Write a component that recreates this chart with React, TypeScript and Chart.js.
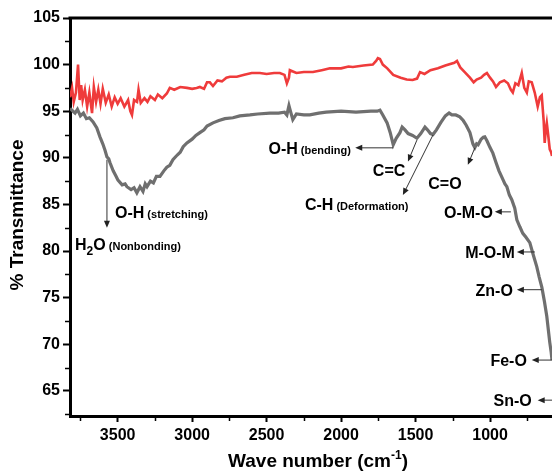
import React, { useEffect, useRef } from "react";
import { Chart, registerables } from "chart.js";

Chart.register(...registerables);

// ---- Data ----
const grayWavenumbers = [
  3820, 3800, 3786, 3770, 3750, 3730, 3710, 3690, 3665, 3640, 3619, 3600, 3585, 3572, 3560, 3552, 3530, 3510, 3498,
  3470, 3450, 3438, 3410, 3390, 3371, 3350, 3330, 3315, 3303, 3280, 3260, 3240, 3216, 3190, 3170, 3150, 3129, 3100,
  3080, 3060, 3035, 3000, 2975, 2948, 2920, 2900, 2860, 2820, 2780, 2726, 2680, 2612, 2560, 2478, 2420, 2380, 2364,
  2350, 2340, 2324, 2300, 2250, 2210, 2150, 2100, 2000, 1900, 1800, 1758, 1739, 1720, 1691, 1670, 1650, 1630, 1605,
  1590, 1571, 1550, 1520, 1491, 1465, 1437, 1420, 1400, 1383, 1360, 1330, 1300, 1275, 1256, 1230, 1203, 1180, 1160,
  1135, 1115, 1102, 1090, 1080, 1060, 1045, 1035, 1020, 1000, 981, 960, 940, 920, 900, 887, 870, 854, 834, 820, 800,
  780, 760, 733, 710, 686, 670, 652, 635, 619, 599, 590, 584,
];
const grayTransmittance = [
  95.3, 95.0, 94.8, 95.2, 94.5, 94.8, 94.2, 94.3, 93.85, 93.2, 92.25, 91.5, 90.8, 90.1, 89.9, 89.5, 88.6, 88.0, 87.6,
  87.1, 87.2, 86.9, 86.6, 86.8, 86.25, 86.9, 86.4, 87.2, 86.9, 87.5, 87.3, 88.0, 88.0, 88.6, 89.0, 89.2, 89.8, 90.3,
  90.6, 91.2, 91.6, 92.0, 92.4, 92.7, 93.0, 93.4, 93.75, 94.0, 94.2, 94.3, 94.5, 94.6, 94.7, 94.8, 94.8, 94.9, 94.6,
  95.6, 95.0, 94.1, 94.7, 94.6, 94.6, 94.8, 94.9, 95.0, 94.9, 95.0, 95.0, 95.1, 94.6, 93.75, 92.7, 91.4, 92.1, 92.7,
  93.3, 93.0, 92.6, 92.4, 92.1, 92.6, 93.3, 93.0, 92.6, 92.5, 93.0, 93.8, 94.5, 94.8, 94.6, 94.6, 94.4, 94.0, 93.5,
  92.7, 91.5, 91.1, 91.5, 91.4, 92.0, 92.2, 92.25, 91.8, 91.1, 90.5, 89.5, 88.6, 87.9, 87.2, 86.9, 86.0, 85.5, 84.6,
  83.35, 82.6, 81.9, 81.5, 80.9, 79.6, 78.3, 77.2, 76.1, 74.6, 73.0, 70.2, 69.2, 68.3,
];

const redWavenumbers = [
  3820, 3806, 3795, 3780, 3766, 3755, 3745, 3735, 3720, 3705, 3690, 3672, 3660, 3645, 3630, 3615, 3600, 3580, 3560,
  3540, 3520, 3500, 3480, 3455, 3430, 3415, 3404, 3390, 3370, 3360, 3345, 3320, 3300, 3280, 3250, 3230, 3200, 3170,
  3150, 3120, 3080, 3035, 3000, 2970, 2948, 2920, 2900, 2881, 2860, 2830, 2800, 2770, 2746, 2700, 2650, 2600, 2545,
  2500, 2450, 2411, 2380, 2364, 2350, 2344, 2300, 2250, 2189, 2130, 2075, 2000, 1950, 1921, 1850, 1787, 1765, 1753,
  1739, 1720, 1690, 1650, 1600, 1560, 1520, 1490, 1470, 1440, 1400, 1350, 1300, 1240, 1222, 1200, 1170, 1135, 1110,
  1090, 1060, 1040, 1021, 1000, 980, 960, 934, 905, 880, 860, 847, 830, 810, 787, 770, 753, 740, 720, 700, 680, 665,
  653, 640, 633, 626, 619, 610, 599, 590, 584,
];
const redTransmittance = [
  96.5, 97.5, 96.0, 97.0, 100.0, 96.2, 97.8, 96.2, 97.3, 95.5, 97.0, 94.8, 97.6, 96.0, 97.3, 95.8, 97.4, 95.9, 96.8,
  95.5, 96.5, 95.8, 96.4, 95.5, 96.2, 95.0, 94.6, 96.2, 96.0, 97.3, 95.9, 96.4, 96.0, 96.6, 96.2, 96.8, 96.4, 96.9,
  97.5, 97.3, 97.6, 97.5, 97.4, 97.5, 97.6, 97.4, 98.1, 98.1, 97.7, 98.3, 98.2, 98.6, 98.7, 98.7, 98.9, 99.1, 99.1,
  99.0, 99.1, 99.1, 98.9, 98.0, 98.6, 99.4, 99.1, 99.2, 99.2, 99.4, 99.6, 99.6, 99.8, 99.75, 99.9, 100.0, 100.4, 100.7,
  100.6, 100.0, 99.6, 98.9, 98.6, 98.4, 98.35, 98.5, 99.2, 99.0, 99.4, 99.6, 99.9, 100.2, 100.4, 99.7, 99.2, 98.6, 98.1,
  98.4, 98.6, 98.9, 99.1, 98.6, 98.2, 97.6, 98.1, 98.3, 98.0, 97.3, 97.0, 98.0, 97.8, 99.1, 97.5, 97.0, 98.2, 98.1,
  97.0, 95.5, 96.5, 96.7, 94.0, 91.6, 93.0, 93.75, 92.5, 90.9, 90.6, 90.2,
];

const xMajorTicks = [3500, 3000, 2500, 2000, 1500, 1000];
const xMinorTicks = [3750, 3250, 2750, 2250, 1750, 1250, 750];
const yMajorTicks = [65, 70, 75, 80, 85, 90, 95, 100, 105];
const yMinorTicks = [62.5, 67.5, 72.5, 77.5, 82.5, 87.5, 92.5, 97.5, 102.5];

const X_MIN = 584;
const X_MAX = 3820;
const Y_MIN = 62.3;
const Y_MAX = 105;

// Peak annotations (data coordinates)
type Part = [string, number, number?];
interface Note {
  parts: Part[];
  x: number;
  y: number;
  align: "left" | "right" | "center";
  arrow?: [number, number, number, number];
}
const notes: Note[] = [
  { parts: [["O-H", 16], [" (bending)", 11]], x: 1934, y: 91.07, align: "right", arrow: [1650, 91.07, 1905, 91.07] },
  { parts: [["C=C", 16]], x: 1678, y: 88.7, align: "center", arrow: [1491, 91.9, 1551, 89.6] },
  { parts: [["C-H", 16], [" (Deformation)", 11]], x: 2243, y: 85.0, align: "left", arrow: [1383, 92.45, 1585, 86.0] },
  { parts: [["C=O", 16]], x: 1303, y: 87.3, align: "center", arrow: [1102, 91.07, 1149, 89.25] },
  { parts: [["O-M-O", 16]], x: 981, y: 84.2, align: "right", arrow: [860, 84.2, 968, 84.2] },
  { parts: [["M-O-M", 16]], x: 833, y: 79.9, align: "right", arrow: [699, 79.9, 820, 79.9] },
  { parts: [["Zn-O", 16]], x: 847, y: 75.85, align: "right", arrow: [652, 75.85, 820, 75.85] },
  { parts: [["Fe-O", 16]], x: 753, y: 68.3, align: "right", arrow: [584, 68.3, 720, 68.3] },
  { parts: [["Sn-O", 16]], x: 720, y: 64.0, align: "right", arrow: [584, 64.0, 680, 64.0] },
  { parts: [["O-H", 16], [" (stretching)", 11]], x: 3518, y: 84.2, align: "left", arrow: [3572, 89.8, 3572, 82.5] },
  { parts: [["H", 16], ["2", 12, 5], ["O", 16], [" (Nonbonding)", 11]], x: 3786, y: 80.7, align: "left" },
];

const FONT = "'Liberation Sans', Arial, Helvetica, sans-serif";

const decorPlugin = {
  id: "ftirDecor",
  afterDraw(chart: any) {
    const { ctx, chartArea, scales } = chart;
    const xs = scales.x;
    const ys = scales.y;
    ctx.save();
    // top frame line
    ctx.strokeStyle = "#000";
    ctx.lineWidth = 3;
    ctx.beginPath();
    ctx.moveTo(chartArea.left - 1.5, chartArea.top);
    ctx.lineTo(chartArea.right, chartArea.top);
    ctx.stroke();

    // minor ticks
    ctx.lineWidth = 1.5;
    ctx.beginPath();
    for (const v of xMinorTicks) {
      const px = Math.round(xs.getPixelForValue(v)) + 0.5;
      ctx.moveTo(px, chartArea.bottom);
      ctx.lineTo(px, chartArea.bottom + 5);
    }
    for (const v of yMinorTicks) {
      const py = Math.round(ys.getPixelForValue(v)) + 0.5;
      ctx.moveTo(chartArea.left, py);
      ctx.lineTo(chartArea.left - 5, py);
    }
    ctx.stroke();

    // axis titles
    ctx.fillStyle = "#000";
    ctx.font = `bold 19px ${FONT}`;
    ctx.textBaseline = "middle";
    ctx.textAlign = "center";
    ctx.save();
    ctx.translate(18, 215);
    ctx.rotate(-Math.PI / 2);
    ctx.fillText("% Transmittance", 0, 0);
    ctx.restore();

    const main = "Wave number (cm";
    const sup = "-1";
    const close = ")";
    ctx.font = `bold 19px ${FONT}`;
    const wMain = ctx.measureText(main).width;
    const wClose = ctx.measureText(close).width;
    ctx.font = `bold 12px ${FONT}`;
    const wSup = ctx.measureText(sup).width;
    const total = wMain + wSup + wClose;
    let tx = 318 - total / 2;
    const baseY = 467;
    ctx.textAlign = "left";
    ctx.textBaseline = "alphabetic";
    ctx.font = `bold 19px ${FONT}`;
    ctx.fillText(main, tx, baseY);
    tx += wMain;
    ctx.font = `bold 12px ${FONT}`;
    ctx.fillText(sup, tx, baseY - 8);
    tx += wSup;
    ctx.font = `bold 19px ${FONT}`;
    ctx.fillText(close, tx, baseY);

    // arrows
    ctx.strokeStyle = "#333";
    ctx.fillStyle = "#222";
    ctx.lineWidth = 1;
    for (const n of notes) {
      if (!n.arrow) continue;
      const [x1, y1, x2, y2] = n.arrow;
      const ax = xs.getPixelForValue(x1);
      const ay = ys.getPixelForValue(y1);
      const bx = xs.getPixelForValue(x2);
      const by = ys.getPixelForValue(y2);
      const ang = Math.atan2(by - ay, bx - ax);
      const len = 7;
      const hw = 3;
      ctx.beginPath();
      ctx.moveTo(ax, ay);
      ctx.lineTo(bx - Math.cos(ang) * (len - 1), by - Math.sin(ang) * (len - 1));
      ctx.stroke();
      ctx.beginPath();
      ctx.moveTo(bx, by);
      ctx.lineTo(bx - Math.cos(ang) * len - Math.sin(ang) * hw, by - Math.sin(ang) * len + Math.cos(ang) * hw);
      ctx.lineTo(bx - Math.cos(ang) * len + Math.sin(ang) * hw, by - Math.sin(ang) * len - Math.cos(ang) * hw);
      ctx.closePath();
      ctx.fill();
    }

    // labels
    ctx.fillStyle = "#000";
    ctx.textAlign = "left";
    ctx.textBaseline = "alphabetic";
    for (const n of notes) {
      let w = 0;
      const widths: number[] = [];
      for (const [t, s] of n.parts) {
        ctx.font = `bold ${s}px ${FONT}`;
        const m = ctx.measureText(t).width;
        widths.push(m);
        w += m;
      }
      const px = xs.getPixelForValue(n.x);
      const py = ys.getPixelForValue(n.y);
      let sx = n.align === "left" ? px : n.align === "right" ? px - w : px - w / 2;
      const base = py + 6;
      n.parts.forEach(([t, s, dy], i) => {
        ctx.font = `bold ${s}px ${FONT}`;
        ctx.fillText(t, sx, base + (dy || 0));
        sx += widths[i];
      });
    }
    ctx.restore();
  },
};

export default function App() {
  const ref = useRef<HTMLCanvasElement>(null);
  useEffect(() => {
    const canvas = ref.current;
    if (!canvas) return;
    const chart = new Chart(canvas, {
      type: "line",
      data: {
        datasets: [
          {
            label: "gray",
            data: grayWavenumbers.map((x, i) => ({ x, y: grayTransmittance[i] })),
            borderColor: "#6f6f6f",
            borderWidth: 3.2,
            pointRadius: 0,
            tension: 0,
            fill: false,
          },
          {
            label: "red",
            data: redWavenumbers.map((x, i) => ({ x, y: redTransmittance[i] })),
            borderColor: "#ef3b3b",
            borderWidth: 2.6,
            pointRadius: 0,
            tension: 0,
            fill: false,
          },
        ],
      },
      options: {
        animation: false,
        responsive: false,
        devicePixelRatio: 1,
        layout: { padding: { top: 18, right: 0, left: 0, bottom: 0 } },
        plugins: { legend: { display: false }, tooltip: { enabled: false } },
        scales: {
          x: {
            type: "linear",
            reverse: true,
            min: X_MIN,
            max: X_MAX,
            afterBuildTicks: (s: any) => {
              s.ticks = xMajorTicks.map((v) => ({ value: v }));
            },
            afterFit: (s: any) => {
              s.height = 55;
            },
            ticks: {
              font: { family: FONT, size: 16, weight: "bold" },
              color: "#000",
              padding: 4,
              maxRotation: 0,
              autoSkip: false,
              callback: (v: any) => String(v),
            },
            grid: { drawOnChartArea: false, tickLength: 6, tickWidth: 2, tickColor: "#000" },
            border: { display: true, width: 3, color: "#000" },
          },
          y: {
            type: "linear",
            min: Y_MIN,
            max: Y_MAX,
            afterBuildTicks: (s: any) => {
              s.ticks = yMajorTicks.map((v) => ({ value: v }));
            },
            afterFit: (s: any) => {
              s.width = 70;
            },
            ticks: {
              font: { family: FONT, size: 16, weight: "bold" },
              color: "#000",
              padding: 3,
              autoSkip: false,
              callback: (v: any) => String(v),
            },
            grid: { drawOnChartArea: false, tickLength: 7, tickWidth: 2, tickColor: "#000" },
            border: { display: true, width: 3, color: "#000" },
          },
        },
      },
      plugins: [decorPlugin],
    } as any);
    return () => chart.destroy();
  }, []);
  return (
    <div style={{ position: "fixed", left: 0, top: 0, width: 552, height: 471, background: "#fff" }}>
      <canvas ref={ref} width={552} height={471} style={{ display: "block" }} />
    </div>
  );
}
